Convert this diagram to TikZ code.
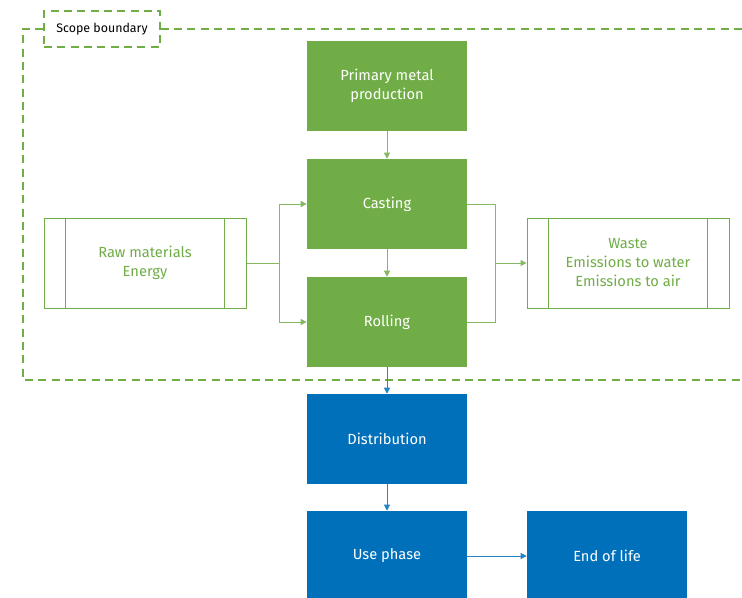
\documentclass[tikz,border=0pt]{standalone}
\usepackage{fontspec}
\setmainfont{Fira Sans}
\usetikzlibrary{arrows.meta}
\definecolor{leafgreen}{HTML}{70AD47}
\definecolor{seablue}{HTML}{0070BA}
\begin{document}
\begin{tikzpicture}[x=0.75pt,y=-0.75pt,>={Triangle[length=4.5pt,width=4.5pt]}]
\tikzstyle{stage}=[rectangle, fill=leafgreen, text=white, minimum width=120pt, minimum height=67.5pt, inner sep=0pt, align=center, font=\fontsize{11}{14.25}\selectfont]
\tikzstyle{later}=[stage, fill=seablue]
\tikzstyle{flow}=[stage, fill=white, draw=leafgreen, line width=0.75pt, text=leafgreen, minimum width=151.5pt]
\tikzstyle{boundary}=[leafgreen, line width=1.1pt, dash pattern=on 6pt off 4pt]
\tikzstyle{link}=[leafgreen!85, line width=0.75pt]
\tikzstyle{bluelink}=[seablue!85, line width=0.75pt]

\useasboundingbox (0,0) rectangle (742,597);
\clip (0,0) rectangle (742,597);

\coordinate (p_1) at (387, 86);
\coordinate (p_2) at (387, 204);
\coordinate (p_3) at (387, 322);
\coordinate (p_4) at (387, 439);
\coordinate (p_5) at (387, 556);
\coordinate (p_6) at (607, 556);

\coordinate (in_1) at (145, 263);
\coordinate (out_1) at (628, 263);

\coordinate (j_1) at (279, 263);
\coordinate (j_2) at (495, 263);


\node[stage] (p_1) at (p_1) {Primary metal\\production};
\node[stage] (p_2) at (p_2) {Casting};
\node[stage] (p_3) at (p_3) {Rolling};
\node[later] (p_4) at (p_4) {Distribution};
\node[later] (p_5) at (p_5) {Use phase};
\node[later] (p_6) at (p_6) {End of life};

\node[flow] (in_1) at (in_1) {Raw materials\\Energy};
\node[flow] (out_1) at (out_1) {Waste\\Emissions to water\\Emissions to air};

\foreach \n in {in_1, out_1} {
  \draw[leafgreen, line width=0.75pt] ([xshift=16.5pt]\n.north west) -- ([xshift=16.5pt]\n.south west);
  \draw[leafgreen, line width=0.75pt] ([xshift=-16.5pt]\n.north east) -- ([xshift=-16.5pt]\n.south east);
}

% scope boundary
\node[draw=leafgreen, line width=1.1pt, dash pattern=on 6pt off 4pt, fill=white, minimum width=87pt, minimum height=27pt, inner sep=0pt, font=\fontsize{9.3}{11}\selectfont] (tag) at (102, 29) {Scope boundary};
\draw[boundary] (tag.west) -- (23, 29) -- (23, 380) -- (742, 380);
\draw[boundary] (tag.east) -- (742, 29);

\draw[link, ->] (p_1) -- (p_2);
\draw[link, ->] (p_2) -- (p_3);

\draw[link] (in_1) -- (j_1);
\draw[link, ->] (j_1) |- (p_2);
\draw[link, ->] (j_1) |- (p_3);

\draw[link] (p_2) -| (j_2);
\draw[link] (p_3) -| (j_2);
\draw[link, ->] (j_2) -- (out_1);

\draw[bluelink, ->] (p_3) -- (p_4);
\draw[bluelink, ->] (p_4) -- (p_5);
\draw[bluelink, ->] (p_5) -- (p_6);

\end{tikzpicture}
\end{document}
